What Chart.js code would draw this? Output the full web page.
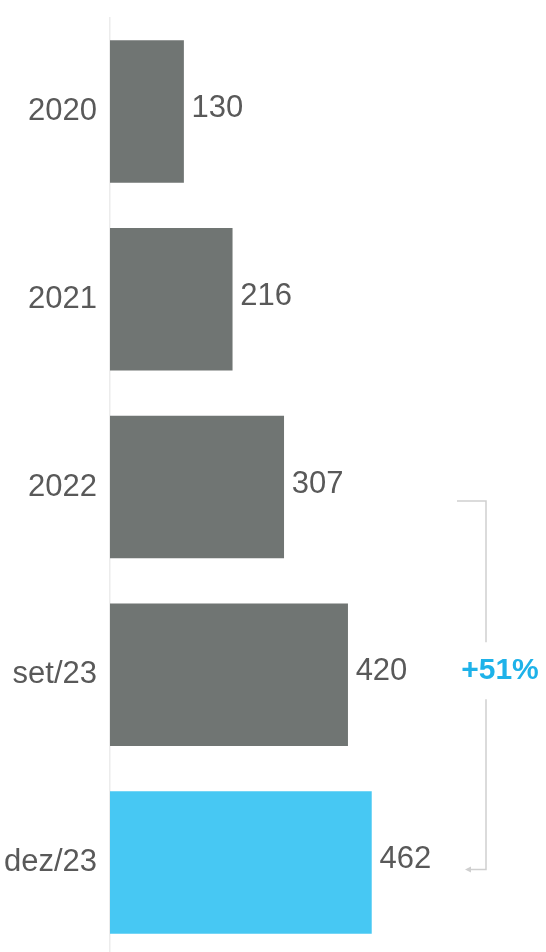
<html lang="pt">

<head>
  <meta charset="UTF-8">
  <meta name="viewport" content="width=device-width, initial-scale=1.0">
  <title>Evolução</title>
  <script src="https://cdn.jsdelivr.net/npm/chart.js"></script>
  <style>
    html, body {
      margin: 0;
      padding: 0;
      background: #ffffff;
      overflow: hidden;
    }
    /* o eixo reserva ~31px em cima e embaixo, por isso o canvas sobe 14px */
    #chartBar {
      display: block;
      margin-top: -14px;
    }
  </style>
</head>

<body>
  <canvas id="chartBar" width="546" height="1002"></canvas>
  <script>
    // dados
    const categories = ['2020', '2021', '2022', 'set/23', 'dez/23'];
    const values = [130, 216, 307, 420, 462];
    const barColors = ['#707573', '#707573', '#707573', '#707573', '#47c8f3'];
    const growthLabel = '+51%';

    const FONT = '"Liberation Sans", Arial, sans-serif';

    // rótulos de valor à direita das barras
    const valueLabels = {
      id: 'valueLabels',
      afterDatasetsDraw(chart) {
        const { ctx } = chart;
        const meta = chart.getDatasetMeta(0);
        ctx.save();
        ctx.font = '31px ' + FONT;
        ctx.fillStyle = '#595959';
        ctx.textAlign = 'left';
        ctx.textBaseline = 'middle';
        meta.data.forEach((bar, i) => {
          ctx.fillText(String(values[i]), bar.x + 8, bar.y - 3);
        });
        ctx.restore();
      }
    };

    // colchete de crescimento 2022 -> dez/23
    const growthBracket = {
      id: 'growthBracket',
      afterDraw(chart) {
        const { ctx } = chart;
        const meta = chart.getDatasetMeta(0);
        const top = meta.data[2].y + 14;
        const bottom = meta.data[4].y + 7;
        const x = 486;
        const mid = (top + bottom) / 2;
        ctx.save();
        ctx.strokeStyle = '#cfcfcf';
        ctx.lineWidth = 1.5;
        ctx.beginPath();
        ctx.moveTo(457, top);
        ctx.lineTo(x, top);
        ctx.lineTo(x, mid - 43);
        ctx.moveTo(x, mid + 14);
        ctx.lineTo(x, bottom);
        ctx.lineTo(468, bottom);
        ctx.stroke();
        // ponta da seta
        ctx.fillStyle = '#cfcfcf';
        ctx.beginPath();
        ctx.moveTo(465, bottom);
        ctx.lineTo(471, bottom - 3);
        ctx.lineTo(471, bottom + 3);
        ctx.closePath();
        ctx.fill();

        ctx.font = 'bold 30px ' + FONT;
        ctx.fillStyle = '#1eb2e9';
        ctx.textAlign = 'center';
        ctx.textBaseline = 'middle';
        ctx.fillText(growthLabel, 500, mid - 15);
        ctx.restore();
      }
    };

    const ctxBar = document.getElementById('chartBar');
    const barChart = new Chart(ctxBar, {
      type: 'bar',
      data: {
        labels: categories,
        datasets: [{
          data: values,
          backgroundColor: barColors,
          borderWidth: 0,
          barThickness: 142
        }]
      },
      options: {
        indexAxis: 'y',
        responsive: false,
        animation: false,
        layout: {
          padding: { top: 0, bottom: 0, left: 0, right: 6 }
        },
        scales: {
          x: {
            display: false,
            min: 0,
            max: 760
          },
          y: {
            afterFit(scale) {
              scale.width = 110;
            },
            grid: { display: false, drawTicks: false },
            border: { display: true, color: '#ececec', width: 1.5 },
            ticks: {
              padding: 13,
              color: '#595959',
              font: { family: FONT, size: 31 }
            }
          }
        },
        plugins: {
          legend: { display: false },
          tooltip: { enabled: false }
        }
      },
      plugins: [valueLabels, growthBracket]
    });
  </script>
</body>

</html>
